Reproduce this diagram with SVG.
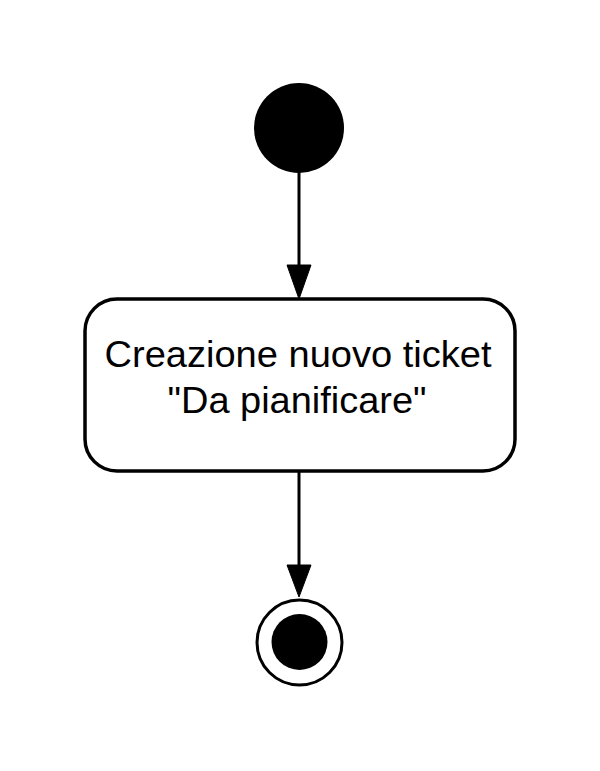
<svg xmlns="http://www.w3.org/2000/svg" width="600" height="771" viewBox="0 0 600 771">
<defs>
<style>
.edge{stroke:#000;stroke-width:3;fill:none}
.head{fill:#000;stroke:#000;stroke-width:1}
.lbl{font-family:"Liberation Sans",Arial,sans-serif;font-size:36px;fill:#000;text-anchor:middle}
</style>
</defs>
<rect width="600" height="771" fill="#fff"/>
<g id="connectors">
<line class="edge" x1="299" y1="172" x2="299" y2="268"/>
<polygon class="head" points="287,265 311,265 299,299"/>
<line class="edge" x1="299" y1="472" x2="299" y2="568"/>
<polygon class="head" points="287,565 311,565 299,597"/>
</g>
<g id="start">
<circle cx="299" cy="128" r="45" fill="#000"/>
</g>
<g id="action">
<rect x="85" y="299" width="430" height="172" rx="32" ry="32" fill="#fff" stroke="#000" stroke-width="3.5"/>
<text class="lbl" x="298" y="367" textLength="387" lengthAdjust="spacingAndGlyphs">Creazione nuovo ticket</text>
<text class="lbl" x="297" y="413" textLength="259" lengthAdjust="spacingAndGlyphs">"Da pianificare"</text>
</g>
<g id="end">
<circle cx="299.5" cy="642.5" r="42.5" fill="#fff" stroke="#000" stroke-width="3"/>
<circle cx="299.5" cy="642" r="28" fill="#000"/>
</g>
</svg>
